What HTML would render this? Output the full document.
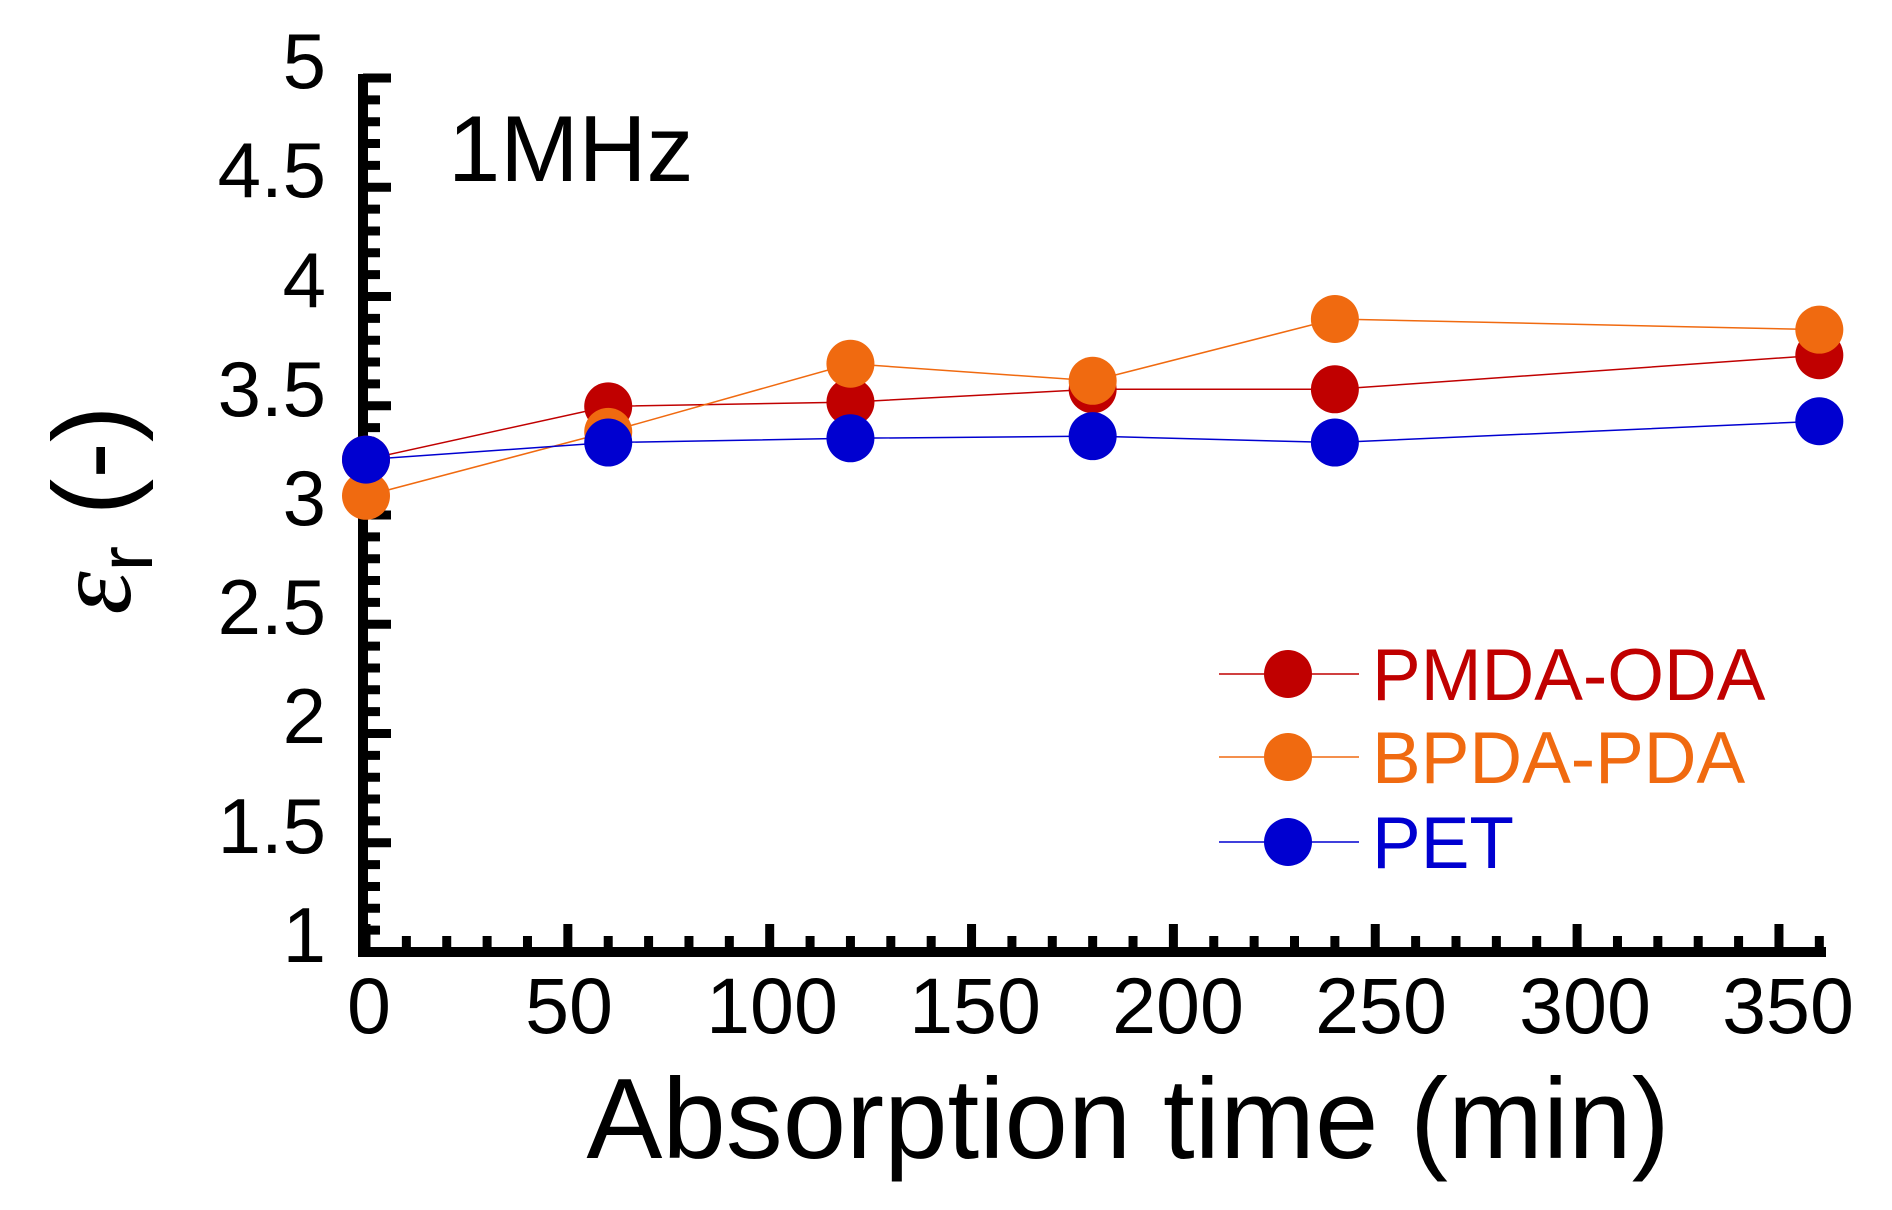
<!DOCTYPE html>
<html><head><meta charset="utf-8"><style>
html,body{margin:0;padding:0;background:#fff;}
</style></head><body>
<svg width="1892" height="1205" viewBox="0 0 1892 1205" xmlns="http://www.w3.org/2000/svg" font-family="Liberation Sans, sans-serif">
<rect width="1892" height="1205" fill="#fff"/>
<g id="ticks" stroke="#000" stroke-width="9"></g>
<line x1="363" y1="74" x2="363" y2="957" stroke="#000" stroke-width="10"/>
<line x1="358" y1="952" x2="1826" y2="952" stroke="#000" stroke-width="10"/>
<g font-size="78" text-anchor="end" fill="#000">
<text x="326" y="88">5</text>
<text x="326" y="197">4.5</text>
<text x="326" y="307">4</text>
<text x="326" y="416">3.5</text>
<text x="326" y="525">3</text>
<text x="326" y="634">2.5</text>
<text x="326" y="743">2</text>
<text x="326" y="853">1.5</text>
<text x="326" y="962">1</text>
</g>
<g font-size="79" text-anchor="middle" fill="#000">
<text x="369" y="1033">0</text>
<text x="569" y="1033">50</text>
<text x="772" y="1033">100</text>
<text x="975" y="1033">150</text>
<text x="1178" y="1033">200</text>
<text x="1381" y="1033">250</text>
<text x="1585" y="1033">300</text>
<text x="1788" y="1033">350</text>
</g>
<text x="1128" y="1158" font-size="114" text-anchor="middle">Absorption time (min)</text>
<text x="448" y="181" font-size="94">1MHz</text>
<text transform="translate(130,510) rotate(-90)" font-size="110" text-anchor="middle"><tspan font-style="italic" font-family="Liberation Serif, serif">ε</tspan><tspan font-size="76" dy="22">r</tspan><tspan dy="-22"> (-)</tspan></text>
<g id="series"></g>
<g font-size="73">
<line x1="1219" y1="674" x2="1359" y2="674" stroke="#c00000" stroke-width="1.5"/>
<circle cx="1288" cy="674" r="24" fill="#c00000"/>
<text x="1372" y="700" fill="#c00000">PMDA-ODA</text>
<line x1="1219" y1="757" x2="1359" y2="757" stroke="#f06a10" stroke-width="1.5"/>
<circle cx="1288" cy="757" r="24" fill="#f06a10"/>
<text x="1372" y="783" fill="#f06a10">BPDA-PDA</text>
<line x1="1219" y1="842" x2="1359" y2="842" stroke="#0000d0" stroke-width="1.5"/>
<circle cx="1288" cy="842" r="24" fill="#0000d0"/>
<text x="1372" y="868" fill="#0000d0">PET</text>
</g>
<script>
var ns="http://www.w3.org/2000/svg";
var t=document.getElementById("ticks");
function ln(x1,y1,x2,y2){var l=document.createElementNS(ns,"line");l.setAttribute("x1",x1);l.setAttribute("y1",y1);l.setAttribute("x2",x2);l.setAttribute("y2",y2);t.appendChild(l);}
for(var i=0;i<=40;i++){var y=952-i*21.85;ln(363,y,(i%5==0)?391:380,y);}
for(var m=0;m<=360;m+=10){var x=366+m*4.037;ln(x,952,x,(m%50==0)?924:936);}
var X=[0,60,120,180,240,360].map(function(v){return 366+v*4.037;});
function Y(v){return 319+(3.88-v)*213;}
var S=[["#c00000",[3.22,3.47,3.49,3.55,3.55,3.71]],["#f06a10",[3.05,3.35,3.67,3.59,3.88,3.83]],["#0000d0",[3.22,3.30,3.32,3.33,3.30,3.40]]];
var g=document.getElementById("series");
S.forEach(function(s){var p=document.createElementNS(ns,"polyline");p.setAttribute("points",X.map(function(x,i){return x+","+Y(s[1][i]);}).join(" "));p.setAttribute("fill","none");p.setAttribute("stroke",s[0]);p.setAttribute("stroke-width","1.5");g.appendChild(p);});
S.forEach(function(s){X.forEach(function(x,i){var c=document.createElementNS(ns,"circle");c.setAttribute("cx",x);c.setAttribute("cy",Y(s[1][i]));c.setAttribute("r",24);c.setAttribute("fill",s[0]);g.appendChild(c);});});
</script>
</svg>
</body></html>
